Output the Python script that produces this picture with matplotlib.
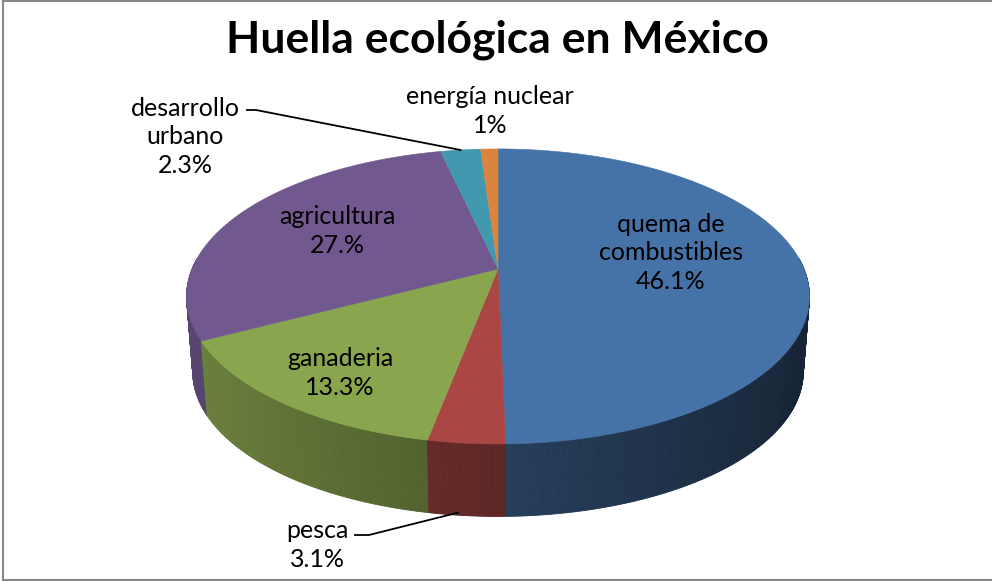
import matplotlib
matplotlib.use("Agg")
import matplotlib.pyplot as plt
from matplotlib.patches import Polygon
import numpy as np

# data
names = ["quema de\ncombustibles", "pesca", "ganaderia", "agricultura",
         "desarrollo\nurbano", "energía nuclear"]
values = [46.1, 3.1, 13.3, 27.0, 2.3, 1.0]
pct_labels = ["46.1%", "3.1%", "13.3%", "27.%", "2.3%", "1%"]
colors = ["#4572A7", "#AA4643", "#89A54E", "#71588F", "#4198AF", "#DB843D"]

# layout (pixels)
label_xy = [(671, 253), (317, 545), (340, 373), (337, 231), (185, 137), (490, 111)]
cx, cy = 498, 269          # projected pie centre
A, B = 142.4, 306.0        # vertical / horizontal radius
e = 0.186                  # perspective strength
k, depth = 0.98, 76        # bottom rim scale and thickness

plt.rcParams['font.family'] = ['Lato', 'DejaVu Sans']

fig = plt.figure(figsize=(9.92, 5.81), dpi=100)
ax = fig.add_axes([0, 0, 1, 1])
ax.set_xlim(0, 992)
ax.set_ylim(581, 0)
ax.axis('off')


def top(t):
    t = np.radians(t)
    u, v = np.cos(t), np.sin(t)
    s = 1 / (1 + e * v)
    return cx + B * u * s, cy - A * v * s


def bot(t):
    x, y = top(t)
    return cx + (x - cx) * k, cy + (y - cy) * k + depth


def shade(c, f):
    rgb = np.array(matplotlib.colors.to_rgb(c))
    return tuple(np.clip(rgb * f, 0, 1))


total = sum(values)
cum = np.concatenate([[0], np.cumsum(values)])
starts = 90 - 360 * cum[:-1] / total
ends = 90 - 360 * cum[1:] / total

# side walls
quads = []
for i in range(len(values)):
    ts = np.linspace(ends[i], starts[i], max(int((starts[i] - ends[i]) / 0.5), 2) + 1)
    for a, b in zip(ts[:-1], ts[1:]):
        m = np.radians((a + b) / 2)
        if np.sin(m) < 0.08:
            f = 0.55 - 0.25 * np.cos(m)
            quads.append((np.sin(m), [top(a), top(b), bot(b), bot(a)], shade(colors[i], f)))
quads.sort(key=lambda q: -q[0])
for _, pts, col in quads:
    ax.add_patch(Polygon(pts, closed=True, facecolor=col, edgecolor=col, lw=0.6, zorder=2))

# top faces
for i in range(len(values)):
    ts = np.linspace(starts[i], ends[i], 200)
    pts = [(cx, cy)] + [top(t) for t in ts]
    ax.add_patch(Polygon(pts, closed=True, facecolor=colors[i], edgecolor=colors[i],
                         lw=0.4, zorder=3))

# labels
for i in range(len(values)):
    x, y = label_xy[i]
    ax.text(x, y, f"{names[i]}\n{pct_labels[i]}", ha='center', va='center',
            fontsize=18, linespacing=1.28, color='black', zorder=5)

# leader lines
mid_d = (starts[4] + ends[4]) / 2
px, py = top(mid_d)
ax.plot([247, 256, px], [110, 110, py], color='black', lw=1.3, zorder=4)
mid_p = (starts[1] + ends[1]) / 2
px, py = bot(mid_p)
ax.plot([355, 369, px - 9], [535, 535, py - 3], color='black', lw=1.3, zorder=4)

# title
ax.text(497, 40, "Huella ecológica en México", ha='center', va='center',
        fontsize=32, fontweight='bold', color='black')

# border
ax.plot([2.5, 2.5], [1, 579.5], color='#888888', lw=1.5, zorder=6)
ax.plot([2.5, 992], [1, 1], color='#888888', lw=1.5, zorder=6)
ax.plot([2.5, 992], [579.5, 579.5], color='#888888', lw=1.5, zorder=6)

fig.savefig("out.png", dpi=100)
